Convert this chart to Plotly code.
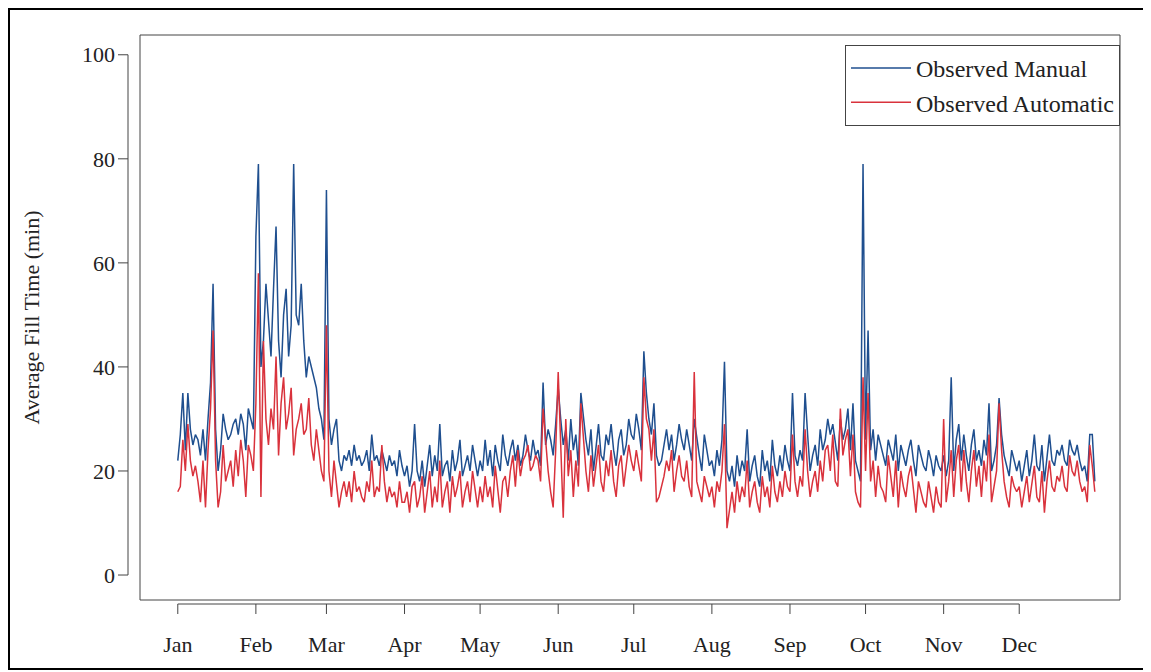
import plotly.graph_objects as go
import pandas as pd

# daily values, one list per month
manual = [
    [22,27,35,24,35,28,25,27,26,23,28,22,30,37,56,28,20,24,31,28,26,27,29,30,27,31,29,24,32,30,28],
    [65,79,40,45,56,48,42,55,67,45,38,50,55,42,48,79,50,48,56,45,38,42,40,38,36,32,30,26],
    [74,30,25,28,30,22,20,23,22,24,21,25,22,23,21,22,24,20,27,22,23,21,24,22,20,23,21,22,19,24,21],
    [19,21,17,20,29,20,18,22,17,21,25,19,23,20,29,19,21,22,18,24,20,22,26,19,21,23,20,25,22,19],
    [22,20,26,21,24,19,25,22,20,27,23,21,24,26,22,25,21,23,27,24,22,26,23,24,21,37,25,28,26,23,29],
    [36,30,25,28,22,30,24,27,21,35,30,26,23,28,20,25,29,23,22,27,25,29,24,21,26,28,23,25,30,27],
    [26,31,28,24,43,35,30,27,33,23,21,22,25,28,24,27,22,25,29,26,24,28,25,22,30,26,23,20,27,24,21],
    [22,19,24,21,26,41,20,18,21,17,23,19,22,20,28,18,21,23,19,17,24,20,22,18,26,21,19,23,20,25,22],
    [20,35,23,21,24,22,35,27,20,23,25,21,28,24,26,30,27,29,25,22,30,26,28,32,24,33,22,20,18,79],
    [26,47,24,28,22,27,25,23,21,26,24,22,27,20,25,23,21,24,26,22,19,25,23,21,20,24,22,19,23,21,20],
    [23,19,22,38,20,26,29,22,27,23,20,25,28,22,24,21,26,23,33,20,22,25,34,27,23,21,19,24,22,20],
    [22,18,21,24,19,22,27,21,20,25,18,23,27,22,21,24,23,25,22,21,26,24,23,25,22,20,21,18,27,27,18],
]
automatic = [
    [16,17,26,20,29,22,19,21,18,14,22,13,24,32,47,22,13,16,25,18,20,22,17,24,19,26,22,15,25,23,20],
    [33,58,15,45,30,25,32,28,42,23,33,38,28,31,36,23,28,30,33,27,28,34,25,22,28,24,20,18],
    [48,20,15,22,17,13,16,18,15,18,14,20,16,17,15,14,18,16,22,15,17,16,25,18,14,17,15,16,13,18,14],
    [14,16,12,17,18,13,15,19,12,16,20,13,17,14,22,13,16,18,12,19,15,17,20,13,16,18,14,20,16,13],
    [17,14,19,15,17,13,21,16,12,18,19,15,20,23,17,24,19,22,23,25,20,21,23,22,18,32,25,20,16,13,24],
    [39,25,11,30,19,24,15,22,17,33,26,20,16,23,17,21,25,18,16,22,19,24,18,15,21,23,17,21,25,22],
    [20,24,21,18,38,30,28,22,28,14,15,17,19,22,20,24,16,20,23,19,18,22,17,15,39,18,16,14,19,17,15],
    [17,13,18,16,20,29,9,13,16,12,18,14,17,15,22,13,16,18,14,12,19,15,17,13,21,16,14,18,15,20,17],
    [16,27,18,15,19,17,28,20,15,18,20,16,22,18,24,25,20,27,18,17,32,23,26,28,19,27,16,14,13,38],
    [20,35,18,22,15,21,17,16,14,23,19,15,22,13,20,17,15,19,21,16,12,18,16,14,13,18,15,12,17,14,13],
    [30,14,18,24,15,22,25,16,24,18,14,20,24,17,21,15,22,18,27,14,17,20,33,24,18,15,13,19,17,16],
    [17,13,16,19,14,18,21,15,14,20,12,18,22,17,16,19,18,21,17,16,23,20,19,22,18,16,17,14,25,21,16],
]
month_labels = ["Jan", "Feb", "Mar", "Apr", "May", "Jun", "Jul", "Aug", "Sep", "Oct", "Nov", "Dec"]
y_ticks = [0, 20, 40, 60, 80, 100]


def month_dates(series):
    dates, vals = [], []
    for m, vs in enumerate(series):
        start = pd.Timestamp(2015, m + 1, 1)
        dates += [start + pd.Timedelta(days=i) for i in range(len(vs))]
        vals += vs
    return dates, vals


month_starts = [pd.Timestamp(2015, m + 1, 1) for m in range(12)]
FONT = "Liberation Serif"
BLUE = "#1f4f8f"
RED = "#d9323c"

fig = go.Figure()
d, v = month_dates(manual)
fig.add_trace(go.Scatter(x=d, y=v, mode="lines", line=dict(color=BLUE, width=1.5), name="Observed Manual"))
d, v = month_dates(automatic)
fig.add_trace(go.Scatter(x=d, y=v, mode="lines", line=dict(color=RED, width=1.5), name="Observed Automatic"))

# plot box is 980 x 565 px (page has an 8px body margin)
PW, PH = 980, 565
x0 = pd.Timestamp(2015, 1, 1) - pd.Timedelta(days=15)
x1 = pd.Timestamp(2015, 1, 1) + pd.Timedelta(days=374)

shapes = []
shapes.append(dict(type="rect", xref="paper", yref="paper", x0=0, x1=1, y0=0, y1=1,
                   line=dict(color="#444", width=1)))
# outer frame of the image
shapes.append(dict(type="rect", xref="paper", yref="paper",
                   x0=-131/PW, x1=1008/PW, y0=-69/PH, y1=1 + 26/PH,
                   line=dict(color="black", width=2)))
# R-style detached axes
ax = -12/PW
shapes.append(dict(type="line", xref="paper", yref="y", x0=ax, x1=ax, y0=0, y1=100,
                   line=dict(color="#444", width=1)))
for t in y_ticks:
    shapes.append(dict(type="line", xref="paper", yref="y", x0=ax, x1=ax - 10/PW, y0=t, y1=t,
                       line=dict(color="#444", width=1)))
ay = -4/PH
shapes.append(dict(type="line", xref="x", yref="paper", x0=month_starts[0], x1=month_starts[-1],
                   y0=ay, y1=ay, line=dict(color="#444", width=1)))
for m in month_starts:
    shapes.append(dict(type="line", xref="x", yref="paper", x0=m, x1=m, y0=ay, y1=ay - 10/PH,
                       line=dict(color="#444", width=1)))

fig.update_layout(
    width=1151, height=672,
    margin=dict(l=132, r=39, t=27, b=80),
    plot_bgcolor="white", paper_bgcolor="white",
    font=dict(family=FONT, size=22, color="#222"),
    shapes=shapes,
    showlegend=True,
    legend=dict(x=1, y=1 - 10/PH, xanchor="right", yanchor="top",
                bordercolor="#444", borderwidth=1, font=dict(size=24, family=FONT),
                itemwidth=60, tracegroupgap=4),
    xaxis=dict(range=[x0, x1], tickvals=month_starts, ticktext=month_labels,
               showgrid=False, zeroline=False, showline=False, ticks="",
               ticklabelstandoff=29),
    yaxis=dict(range=[-4.8, 103.8], tickvals=y_ticks, showgrid=False, zeroline=False,
               showline=False, ticks="", ticklabelstandoff=24,
               title=dict(text="Average Fill Time (min)", font=dict(size=22), standoff=36)),
)

fig.write_html("out.html")
